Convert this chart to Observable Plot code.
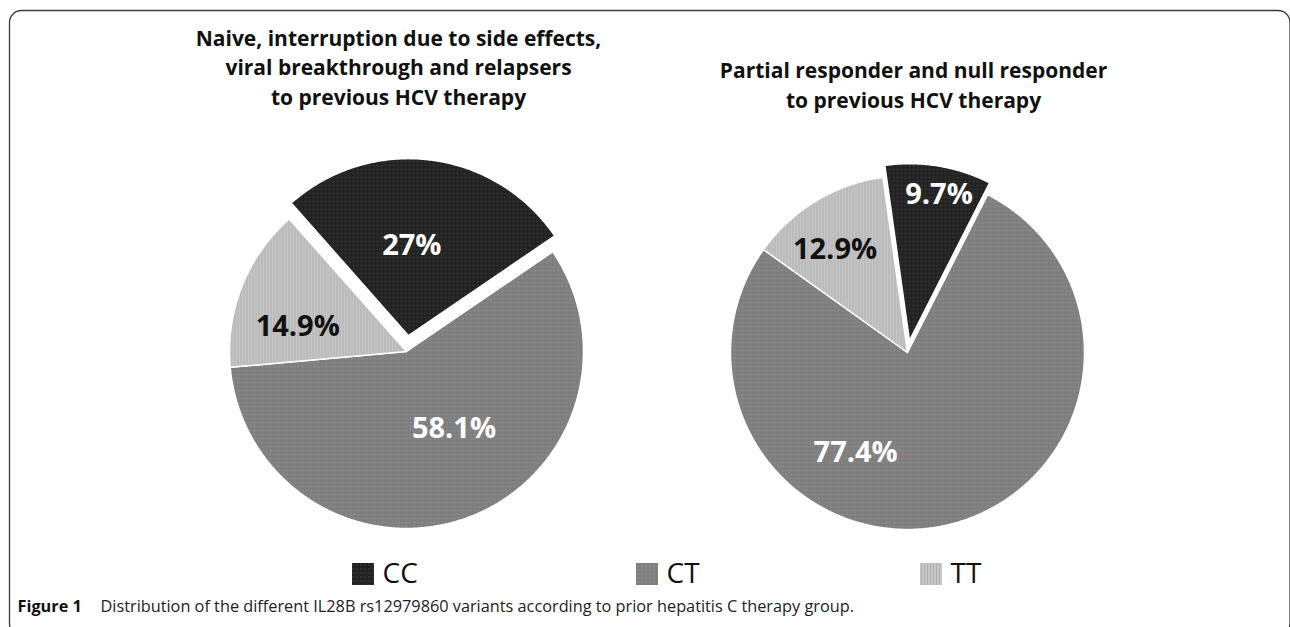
<!DOCTYPE html>
<html>
<head>
<meta charset="utf-8">
<script src="https://cdn.jsdelivr.net/npm/d3@7"></script>
<script src="https://cdn.jsdelivr.net/npm/@observablehq/plot@0.6"></script>
<style>
  body { margin: 0; background: #fff; }
  #chart svg { display: block; }
</style>
</head>
<body>
<div id="chart"></div>
<script>
// ---------- data ----------
const groupTitles = [
  "Naive, interruption due to side effects,\nviral breakthrough and relapsers\nto previous HCV therapy",
  "Partial responder and null responder\nto previous HCV therapy"
];
const genotypes = ["CC", "CT", "TT"];
const naiveShares = [27, 58.1, 14.9];
const partialShares = [9.7, 77.4, 12.9];
const captionLead = "Figure 1";
const captionText = "Distribution of the different IL28B rs12979860 variants according to prior hepatitis C therapy group.";

// ---------- layout ----------
const W = 1290, H = 627;
const pies = [
  {cx: 406, cy: 351, r: 177, start: -41.5, explode: 16, titleX: 398, titleBase: 104},
  {cx: 907, cy: 352, r: 177, start: -8, explode: 12, titleX: 913, titleBase: 107}
];
// "best fit" label placement: angular nudge (deg) from the slice bisector and radial fraction
const labelFit = [
  {CC: [-5, 0.51], CT: [-12, 0.51], TT: [-9, 0.63]},
  {CC: [2, 0.84], CT: [41, 0.64], TT: [-4, 0.71]}
];
const titleLineHeight = 29.5, titleSize = 21;
const legendX0 = 352, legendStep = 284, legendY = 574, swatch = 22;
const font = "'Open Sans', 'Liberation Sans', sans-serif";

// ---------- derived geometry from values ----------
const seriesList = [naiveShares, partialShares];
const slicePts = [];
const labels = [];
seriesList.forEach((vals, p) => {
  const L = pies[p];
  const a0 = L.start * Math.PI / 180;
  const arcs = d3.pie().sort(null).startAngle(a0).endAngle(a0 + 2 * Math.PI)(vals);
  arcs.forEach((a, i) => {
    const g = genotypes[i];
    const mid = (a.startAngle + a.endAngle) / 2;
    const off = g === "CC" ? L.explode : 0;
    const ox = L.cx + off * Math.sin(mid), oy = L.cy - off * Math.cos(mid);
    const key = p + g;
    slicePts.push({key, g, x: ox, y: oy});
    const n = Math.max(2, Math.ceil((a.endAngle - a.startAngle) / (Math.PI / 360)));
    for (let k = 0; k <= n; k++) {
      const t = a.startAngle + (a.endAngle - a.startAngle) * k / n;
      slicePts.push({key, g, x: ox + L.r * Math.sin(t), y: oy - L.r * Math.cos(t)});
    }
    const [nudge, frac] = labelFit[p][g];
    const la = mid + nudge * Math.PI / 180;
    labels.push({
      g, text: vals[i] + "%",
      x: ox + L.r * frac * Math.sin(la),
      y: oy - L.r * frac * Math.cos(la)
    });
  });
});
const titles = groupTitles.map((t, p) => ({text: t, x: pies[p].titleX, y: pies[p].titleBase}));
const legendItems = genotypes.map((g, i) => ({g, i}));

const chart = Plot.plot({
  width: W, height: H, margin: 0,
  x: {domain: [0, W], range: [0, W], axis: null},
  y: {domain: [0, H], range: [0, H], axis: null},
  color: {domain: genotypes, range: ["url(#pCC)", "url(#pCT)", "url(#pTT)"]},
  style: {background: "#fff", fontFamily: font},
  marks: [
    Plot.frame({stroke: "#3a3a3a", strokeWidth: 1.3, rx: 12, insetLeft: 9, insetTop: 10, insetRight: 0.5, insetBottom: -8}),
    Plot.line(slicePts, {x: "x", y: "y", z: "key", fill: "g", stroke: "#fff", strokeWidth: 1.5, curve: "linear-closed"}),
    Plot.text(labels.filter(d => d.g !== "TT"), {x: "x", y: "y", text: "text", fill: "#fff", fontSize: 29, fontWeight: "bold", fontFamily: font}),
    Plot.text(labels.filter(d => d.g === "TT"), {x: "x", y: "y", text: "text", fill: "#111", fontSize: 29, fontWeight: "bold", fontFamily: font}),
    Plot.text(titles, {x: "x", y: "y", text: "text", lineAnchor: "bottom", lineHeight: titleLineHeight / titleSize, fontSize: titleSize, fontWeight: "bold", fill: "#111", fontFamily: font}),
    Plot.rect(legendItems, {
      x1: d => legendX0 + d.i * legendStep, x2: d => legendX0 + d.i * legendStep + swatch,
      y1: legendY - swatch / 2, y2: legendY + swatch / 2, fill: "g"
    }),
    Plot.text(legendItems, {x: d => legendX0 + d.i * legendStep + swatch + 8, y: legendY, text: "g", textAnchor: "start", fontSize: 28, fill: "#111", fontFamily: font}),
    Plot.text([captionLead], {x: 17, y: 606, text: d => d, textAnchor: "start", fontWeight: "bold", fontSize: 16.3, fill: "#111", fontFamily: font}),
    Plot.text([captionText], {x: 100, y: 606, text: d => d, textAnchor: "start", fontSize: 16.3, fill: "#222", fontFamily: font})
  ]
});

chart.insertAdjacentHTML("afterbegin", `
<defs>
  <pattern id="pCC" width="4" height="4" patternUnits="userSpaceOnUse">
    <rect width="4" height="4" fill="#222"/><circle cx="1" cy="1" r="0.8" fill="#444"/>
  </pattern>
  <pattern id="pCT" width="4" height="4" patternUnits="userSpaceOnUse">
    <rect width="4" height="4" fill="#7e7e7e"/><circle cx="2" cy="2" r="0.9" fill="#909090"/>
  </pattern>
  <pattern id="pTT" width="3" height="3" patternUnits="userSpaceOnUse">
    <rect width="3" height="3" fill="#c6c6c6"/><rect width="1" height="3" fill="#b0b0b0"/>
  </pattern>
</defs>`);

document.getElementById("chart").append(chart);
</script>
</body>
</html>
